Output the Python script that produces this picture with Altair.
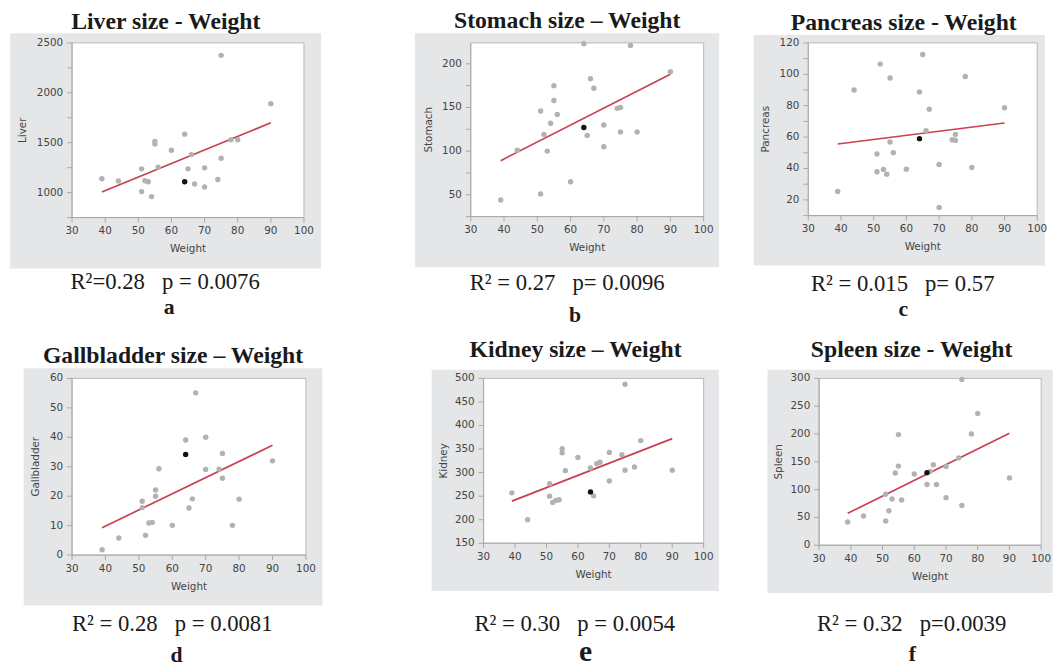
import altair as alt
import pandas as pd

# ---------------- data ----------------
weights = [39, 44, 51, 51, 52, 53, 54, 55, 55, 56, 60, 64, 64, 65, 66, 67, 70, 70, 74, 75, 75, 78, 80, 90]
highlight = [0] * 12 + [1] + [0] * 11   # the black point (weight 64)

liver = [1139, 1116, 1238, 1010, 1119, 1109, 960, 1513, 1487, 1255, 1424, 1586, 1109, 1238,
         1381, 1086, 1248, 1056, 1132, 2375, 1344, 1530, 1530, 1891]
stomach = [44, 101, 146, 51, 119, 100, 132, 175, 158, 142, 65, 223, 127, 118, 183, 172, 130,
           105, 149, 150, 122, 221, 122, 191]
pancreas = [25.4, 90, 49.2, 37.9, 106.5, 39.4, 36.4, 97.6, 56.9, 50, 39.6, 88.8, 59, 112.6, 64,
            77.7, 42.5, 15.2, 58.3, 57.9, 61.7, 98.6, 40.6, 78.7]
gallbladder = [1.8, 5.8, 18.3, 16.1, 6.7, 10.9, 11.1, 22.1, 20, 29.3, 10.1, 39.1, 34.2, 16, 19.1,
               55.1, 40, 29.1, 29.2, 34.5, 26.1, 10.1, 19, 32]
kidney = [257, 200, 276.5, 250, 236.7, 241, 242.3, 350.7, 342, 304.2, 332, 309.8, 259, 250.7, 319,
          321.9, 342.9, 282.1, 338, 487.7, 304.9, 312, 368, 304.9]
spleen = [41.9, 52.6, 91.6, 43.7, 62, 83.3, 130, 199, 142.3, 81.5, 128.2, 109.3, 130.5, 132.9,
          144.7, 109.3, 141.8, 85.6, 157.1, 298.3, 71.5, 200.2, 236.9, 121.1]

fit_x = [39, 90]
liver_fit = [1007, 1699]
stomach_fit = [89.1, 188]
pancreas_fit = [55.6, 69]
gallbladder_fit = [9.3, 37.3]
kidney_fit = [239.5, 372.2]
spleen_fit = [57.3, 201.4]

x_ticks = [30, 40, 50, 60, 70, 80, 90, 100]

liver_ticks = [750, 1000, 1250, 1500, 1750, 2000, 2250, 2500]
liver_labels = [1000, 1500, 2000, 2500]
stomach_ticks = [25, 50, 75, 100, 125, 150, 175, 200]
stomach_labels = [50, 100, 150, 200]
pancreas_ticks = [10, 20, 30, 40, 50, 60, 70, 80, 90, 100, 110, 120]
pancreas_labels = [20, 40, 60, 80, 100, 120]
gallbladder_ticks = [0, 10, 20, 30, 40, 50, 60]
gallbladder_labels = [0, 10, 20, 30, 40, 50, 60]
kidney_ticks = [150, 200, 250, 300, 350, 400, 450, 500]
kidney_labels = [150, 200, 250, 300, 350, 400, 450, 500]
spleen_ticks = [0, 50, 100, 150, 200, 250, 300]
spleen_labels = [0, 50, 100, 150, 200, 250, 300]

NB = "\u00a0"
titles = ["Liver size - Weight", "Stomach size \u2013 Weight", "Pancreas size - Weight",
          "Gallbladder size \u2013 Weight", "Kidney size \u2013 Weight", "Spleen size - Weight"]
stats = ["R\u00b2=0.28" + NB * 3 + "p = 0.0076",
         "R\u00b2 = 0.27" + NB * 3 + "p= 0.0096",
         "R\u00b2 = 0.015" + NB * 3 + "p= 0.57",
         "R\u00b2 = 0.28" + NB * 3 + "p = 0.0081",
         "R\u00b2 = 0.30" + NB * 3 + "p = 0.0054",
         "R\u00b2 = 0.32" + NB * 3 + "p=0.0039"]
letters = ["a", "b", "c", "d", "e", "f"]

# ---------------- layout (local coords, origin = plot top-left) ----------------
specs = [
    dict(key="Liver", vals=liver, fit=liver_fit, domain=[750, 2500],
         ticks=liver_ticks, labels=liver_labels, ytx=-50,
         w=235, h=177, cell=(-71.7, 298.3, -38, 293), gray=(-62.7, 252.3, -9.7, 228.7),
         t=(95, -14.3), s=(94.3, 249.7), l=(98.3, 274.7, 22)),
    dict(key="Stomach", vals=stomach, fit=stomach_fit, domain=[25, 224],
         ticks=stomach_ticks, labels=stomach_labels, ytx=-42.6,
         w=236, h=176, cell=(-104.3, 265.7, -38, 293), gray=(-56.6, 251.7, -9.7, 227.3),
         t=(97.7, -15), s=(97.7, 250.3), l=(105.7, 283, 22)),
    dict(key="Pancreas", vals=pancreas, fit=pancreas_fit, domain=[10, 120],
         ticks=pancreas_ticks, labels=pancreas_labels, ytx=-42.6,
         w=232, h=175, cell=(-74.3, 239.7, -36.2, 294.8), gray=(-55.3, 239.7, -7.9, 225.5),
         t=(96.7, -12.7), s=(95.7, 251.5), l=(96.4, 276.5, 22)),
    dict(key="Gallbladder", vals=gallbladder, fit=gallbladder_fit, domain=[0, 60],
         ticks=gallbladder_ticks, labels=gallbladder_labels, ytx=-36,
         w=237, h=179, cell=(-64, 306, -42.7, 291.3), gray=(-49, 253.7, -10.4, 230),
         t=(102.3, -16), s=(101.5, 255.6), l=(106, 287.3, 22)),
    dict(key="Kidney", vals=kidney, fit=kidney_fit, domain=[150, 500],
         ticks=kidney_ticks, labels=kidney_labels, ytx=-40,
         w=223, h=167, cell=(-109.3, 260.7, -42, 292), gray=(-52.6, 238.4, -8.7, 215.3),
         t=(93.2, -22), s=(92.4, 256.3), l=(103.4, 286.3, 30)),
    dict(key="Spleen", vals=spleen, fit=spleen_fit, domain=[0, 300],
         ticks=spleen_ticks, labels=spleen_labels, ytx=-40.6,
         w=225, h=169, cell=(-77.3, 236.7, -42, 292), gray=(-52.3, 236.7, -8.7, 217.3),
         t=(93.7, -21.3), s=(93.7, 256.3), l=(94.4, 286.3, 22)),
]

one = pd.DataFrame({"k": [0]})
AXC = "#a8a8a8"
LBC = "#444444"
SANS = "DejaVu Sans"


def box(c, fill, **kw):
    return alt.Chart(one).mark_rect(fill=fill, **kw).encode(
        x=alt.value(c[0]), x2=alt.value(c[1]), y=alt.value(c[2]), y2=alt.value(c[3]))


def txt(s, x, y, size, weight, font="Liberation Serif", color="#1a1a1a", **kw):
    return alt.Chart(one).mark_text(
        text=s, font=font, fontSize=size, fontWeight=weight,
        align="center", baseline="alphabetic", color=color, **kw
    ).encode(x=alt.value(x), y=alt.value(y))


def panel(i, p):
    key = p["key"]
    w, h = p["w"], p["h"]
    df = pd.DataFrame({"Weight": weights, key: p["vals"], "hl": highlight})
    fdf = pd.DataFrame({"Weight": fit_x, key: p["fit"]})
    xs = alt.Scale(domain=[30, 100], nice=False, zero=False)
    ys = alt.Scale(domain=p["domain"], nice=False, zero=False)
    X = lambda f: alt.X(f, scale=xs, axis=None)
    Y = lambda f: alt.Y(f, scale=ys, axis=None)

    cell = box(p["cell"], "white", fillOpacity=0)
    gray = box(p["gray"], "#e5e6e8")
    white = box((0, w, 0, h), "white", stroke="#b9b9b9", strokeWidth=1)

    # x axis (ticks + labels) drawn through the x scale
    xt_df = pd.DataFrame({"Weight": x_ticks})
    xticks = alt.Chart(xt_df).mark_rule(color=AXC, strokeWidth=1).encode(
        x=X("Weight:Q"), y=alt.value(h), y2=alt.value(h + 5))
    xlabels = alt.Chart(xt_df).mark_text(
        font=SANS, fontSize=10.5, color=LBC, align="center", baseline="alphabetic"
    ).encode(x=X("Weight:Q"), y=alt.value(h + 17), text=alt.Text("Weight:Q", format="d"))
    xtitle = txt("Weight", w / 2, h + 35, 10.5, "normal", font=SANS, color=LBC)
    xdomain = alt.Chart(one).mark_rule(color=AXC).encode(
        x=alt.value(0), x2=alt.value(w), y=alt.value(h))

    # y axis
    yt_df = pd.DataFrame({key: p["ticks"]})
    yl_df = pd.DataFrame({key: p["labels"]})
    yticks = alt.Chart(yt_df).mark_rule(color=AXC, strokeWidth=1).encode(
        y=Y(f"{key}:Q"), x=alt.value(-5), x2=alt.value(0))
    ylabels = alt.Chart(yl_df).mark_text(
        font=SANS, fontSize=10.5, color=LBC, align="right", baseline="middle"
    ).encode(y=Y(f"{key}:Q"), x=alt.value(-9), text=alt.Text(f"{key}:Q", format="d"))
    ytitle = alt.Chart(one).mark_text(
        text=key, font=SANS, fontSize=10.5, color=LBC, angle=270,
        align="center", baseline="middle"
    ).encode(x=alt.value(p["ytx"]), y=alt.value(h / 2))
    ydomain = alt.Chart(one).mark_rule(color=AXC).encode(
        x=alt.value(0), y=alt.value(0), y2=alt.value(h))

    line = alt.Chart(fdf).mark_line(color="#c9404f", strokeWidth=1.7).encode(
        x=X("Weight:Q"), y=Y(f"{key}:Q"))
    pts = alt.Chart(df).mark_circle(size=30, opacity=1).encode(
        x=X("Weight:Q"),
        y=Y(f"{key}:Q"),
        color=alt.condition("datum.hl == 1", alt.value("#111111"), alt.value("#b2b2b4")),
        order=alt.Order("hl:Q"),
    )
    t1 = txt(titles[i], p["t"][0], p["t"][1], 24, "bold")
    t2 = txt(stats[i], p["s"][0], p["s"][1], 23, "normal")
    t3 = txt(letters[i], p["l"][0], p["l"][1], p["l"][2], "bold")
    return alt.layer(cell, gray, white, xdomain, ydomain, xticks, xlabels, xtitle,
                     yticks, ylabels, ytitle, line, pts, t1, t2, t3).properties(width=w, height=h)


panels = [panel(i, p) for i, p in enumerate(specs)]
row1 = alt.hconcat(*panels[:3], spacing=0)
row2 = alt.hconcat(*panels[3:], spacing=0)

chart = alt.vconcat(row1, row2, spacing=0).properties(
    padding=0, background="white"
).configure_view(
    stroke="transparent"
)

chart.save("out.html", embed_options={"renderer": "svg", "actions": False})
